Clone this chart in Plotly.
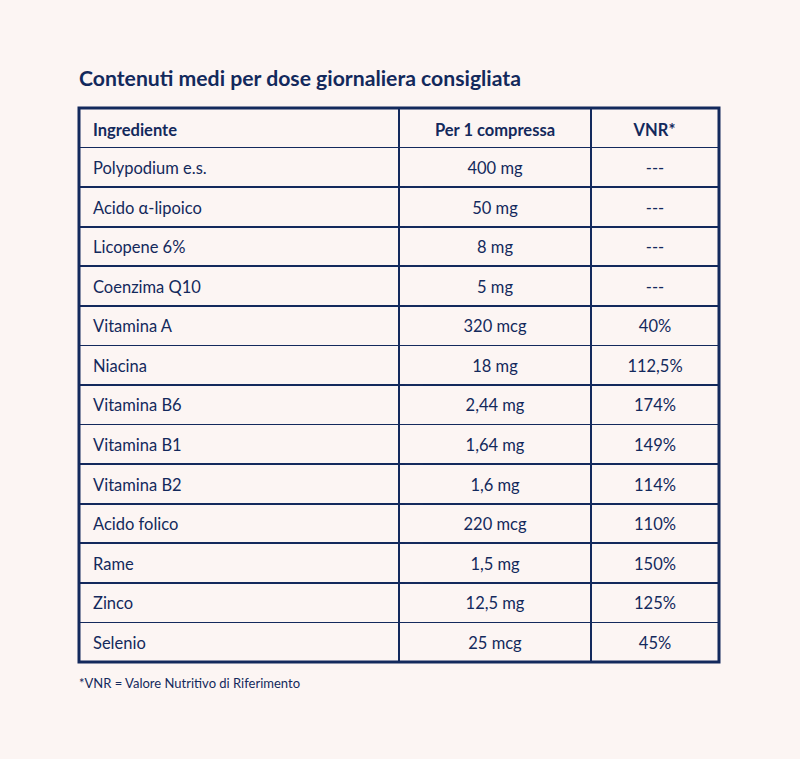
import plotly.graph_objects as go

W, H = 800, 759
BG = "#fcf5f3"
NAVY = "#13295c"
CLEAR = "rgba(0,0,0,0)"
FONT = "Lato"

headers = ["Ingrediente", "Per 1 compressa", "VNR*"]
ingredients = ["Polypodium e.s.", "Acido α-lipoico", "Licopene 6%", "Coenzima Q10",
               "Vitamina A", "Niacina", "Vitamina B6", "Vitamina B1", "Vitamina B2",
               "Acido folico", "Rame", "Zinco", "Selenio"]
per_compressa = ["400 mg", "50 mg", "8 mg", "5 mg", "320 mcg", "18 mg", "2,44 mg",
                 "1,64 mg", "1,6 mg", "220 mcg", "1,5 mg", "12,5 mg", "25 mcg"]
vnr = ["---", "---", "---", "---", "40%", "112,5%", "174%", "149%", "114%",
       "110%", "150%", "125%", "45%"]
title = "Contenuti medi per dose giornaliera consigliata"
footnote = "*VNR = Valore Nutritivo di Riferimento"

x0, xa, xb, x1 = 79, 399, 591, 719
y0, y1 = 108, 662
row_h = (y1 - y0) / (len(ingredients) + 1)
FS = 16.5


def px_x(v):
    return v / W


def px_y(v):
    return 1 - v / H


# grid table (lines and fills only)
fig = go.Figure(go.Table(
    domain=dict(x=[px_x(x0), px_x(x1)], y=[px_y(y1 + 2), px_y(y0)]),
    columnwidth=[xa - x0, xb - xa, x1 - xb],
    header=dict(values=["", "", ""], fill_color=BG,
                line=dict(color=NAVY, width=1.8), height=row_h),
    cells=dict(values=[[""] * len(ingredients)] * 3, fill_color=BG,
               line=dict(color=NAVY, width=1.8), height=row_h),
    hoverinfo="skip",
))

# text tables, offset to centre the text in each row
dy_head, dy_body = 4, 6
pad_left = 6
text_groups = [
    ([headers[0]], [ingredients], ["left"], x0 + pad_left, xa + pad_left),
    (headers[1:], [per_compressa, vnr], ["center", "center"], xa, x1),
]
for hdrs, cols, aligns, ta, tb in text_groups:
    widths = [xa - x0] if len(cols) == 1 else [xb - xa, x1 - xb]
    fig.add_trace(go.Table(
        domain=dict(x=[px_x(ta), px_x(tb)], y=[px_y(y1 + 10), px_y(y0 + dy_head)]),
        columnwidth=widths,
        header=dict(values=[f"<b>{h}</b>" for h in hdrs], align=aligns,
                    fill_color=CLEAR, line=dict(color=CLEAR, width=0),
                    font=dict(family=FONT, size=FS, color=NAVY),
                    height=row_h + dy_body - dy_head),
        cells=dict(values=cols, align=aligns,
                   fill_color=CLEAR, line=dict(color=CLEAR, width=0),
                   font=dict(family=FONT, size=FS, color=NAVY),
                   height=row_h),
        hoverinfo="skip",
    ))

fig.add_shape(type="rect", xref="paper", yref="paper",
              x0=px_x(x0), x1=px_x(x1), y0=px_y(y1), y1=px_y(y0),
              line=dict(color=NAVY, width=3))

fig.add_annotation(text=f"<b>{title}</b>", xref="paper", yref="paper",
                   x=px_x(x0 - 2), y=px_y(78), xanchor="left", yanchor="middle",
                   showarrow=False, font=dict(family=FONT, size=21.2, color=NAVY))
fig.add_annotation(text=footnote, xref="paper", yref="paper",
                   x=px_x(x0 - 2), y=px_y(683), xanchor="left", yanchor="middle",
                   showarrow=False, font=dict(family=FONT, size=13, color=NAVY))

fig.update_layout(width=W, height=H, margin=dict(l=0, r=0, t=0, b=0),
                  paper_bgcolor=BG, plot_bgcolor=BG)
fig.write_html("out.html", config={"displayModeBar": False},
               post_script="document.body.style.margin='0';"
                           "document.body.style.background='" + BG + "';")
